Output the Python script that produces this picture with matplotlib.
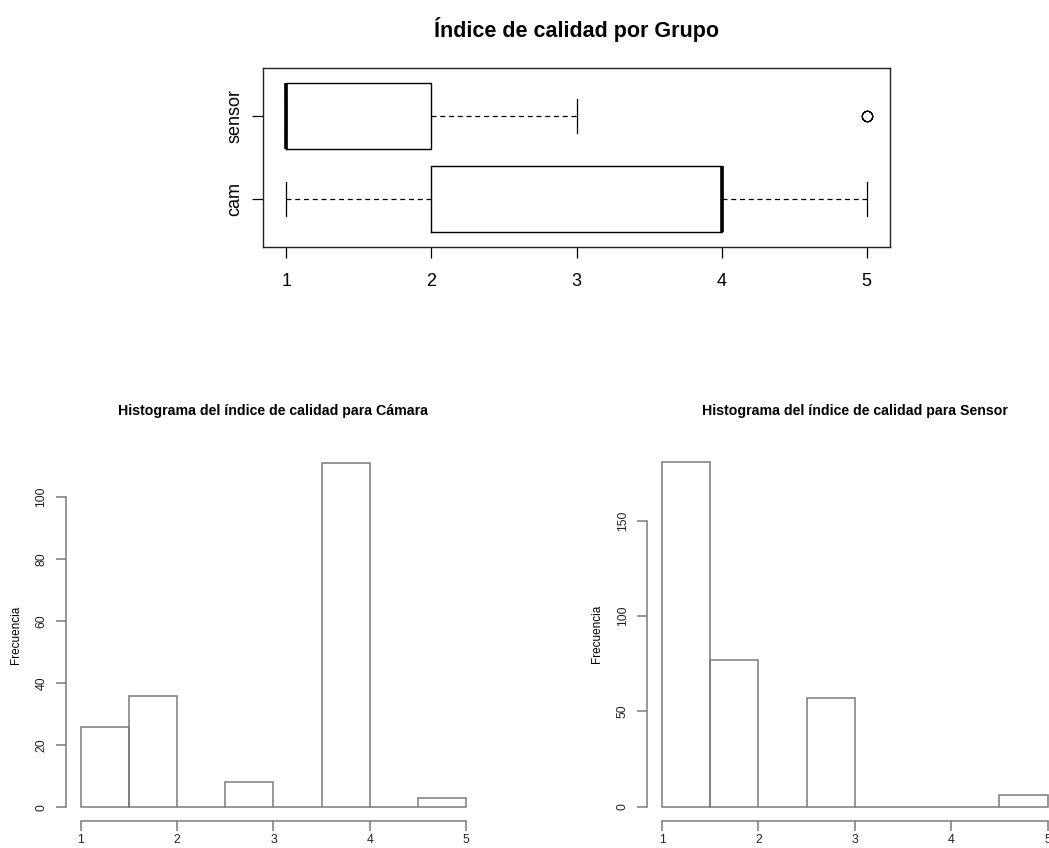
import numpy as np
import matplotlib.pyplot as plt

plt.rcParams['font.family'] = ['Liberation Sans', 'DejaVu Sans']

# calidad index values and how many times each appears per group
niveles = [1, 2, 3, 4, 5]
cam_counts = [26, 36, 8, 111, 3]
sensor_counts = [181, 77, 57, 0, 6]
grupos = ['cam', 'sensor']

# histogram bins (R-style breaks of width 0.5)
breaks = [1.0, 1.5, 2.0, 2.5, 3.0, 3.5, 4.0, 4.5, 5.0]
hist_cam = [26, 36, 0, 8, 0, 111, 0, 3]
hist_sensor = [181, 77, 0, 57, 0, 0, 0, 6]

cam = np.repeat(niveles, cam_counts)
sensor = np.repeat(niveles, sensor_counts)

W, H = 1049, 848
fig = plt.figure(figsize=(W / 100, H / 100), dpi=100)


def px_axes(left, top, right, bottom):
    return fig.add_axes([left / W, 1 - bottom / H, (right - left) / W, (bottom - top) / H])


# ---- boxplot ----
ax = px_axes(263, 68, 890, 247)
ax.boxplot([cam, sensor], orientation='horizontal', widths=0.8, whis=1.5,
           boxprops=dict(color='black', linewidth=1),
           medianprops=dict(color='black', linewidth=2.6, solid_capstyle='butt'),
           whiskerprops=dict(color='black', linewidth=0.9, linestyle=(0, (4, 3))),
           capprops=dict(color='black', linewidth=0.9),
           flierprops=dict(marker='o', markerfacecolor='none', markeredgecolor='black',
                           markersize=7.5, markeredgewidth=0.7))
ax.set_xlim(0.84, 5.16)
ax.set_ylim(0.42, 2.58)
ax.set_xticks(niveles)
ax.set_xticklabels([str(v) for v in niveles])
ax.set_yticks([1, 2])
ax.set_yticklabels(grupos, rotation=90, va='center')
ax.tick_params(direction='out', length=8, width=0.9, labelsize=13, pad=6)
ax.tick_params(axis='x', pad=11)
for s in ax.spines.values():
    s.set_linewidth(1)
    s.set_color('#222222')
ax.set_title('Índice de calidad por Grupo', fontsize=15.5, fontweight='bold', pad=22)


# ---- histograms ----
def histograma(ax, counts, titulo, yticks, ymax, title_gap):
    ax.bar(breaks[:-1], counts, width=0.5, align='edge', fill=False,
           edgecolor='#7a7a7a', linewidth=1.1)
    ax.set_xlim(0.84, 5.16)
    ax.set_ylim(-0.04 * ymax, 1.04 * ymax)
    ax.set_xticks(niveles)
    ax.set_yticks(yticks)
    ax.set_yticklabels([str(v) for v in yticks], rotation=90, va='center')
    for side in ['top', 'right']:
        ax.spines[side].set_visible(False)
    ax.spines['left'].set_bounds(yticks[0], yticks[-1])
    ax.spines['bottom'].set_bounds(1, 5)
    for side in ['left', 'bottom']:
        ax.spines[side].set_color('#7a7a7a')
        ax.spines[side].set_linewidth(1.1)
    ax.tick_params(direction='out', length=7, width=1.1, color='#7a7a7a',
                   labelsize=8.8, labelcolor='#222222', pad=6)
    ax.tick_params(axis='x', pad=2.5)
    ax.set_ylabel('Frecuencia', fontsize=8.5, labelpad=10)
    ax.set_title(titulo, fontsize=10.2, fontweight='bold', pad=title_gap)


ax1 = px_axes(65.6, 449, 481.4, 821)
histograma(ax1, hist_cam, 'Histograma del índice de calidad para Cámara',
           [0, 20, 40, 60, 80, 100], max(hist_cam), 24.5)

ax2 = px_axes(646.7, 447.7, 1063, 820.5)
histograma(ax2, hist_sensor, 'Histograma del índice de calidad para Sensor',
           [0, 50, 100, 150], max(hist_sensor), 23.5)

fig.savefig('out.png', dpi=100)
